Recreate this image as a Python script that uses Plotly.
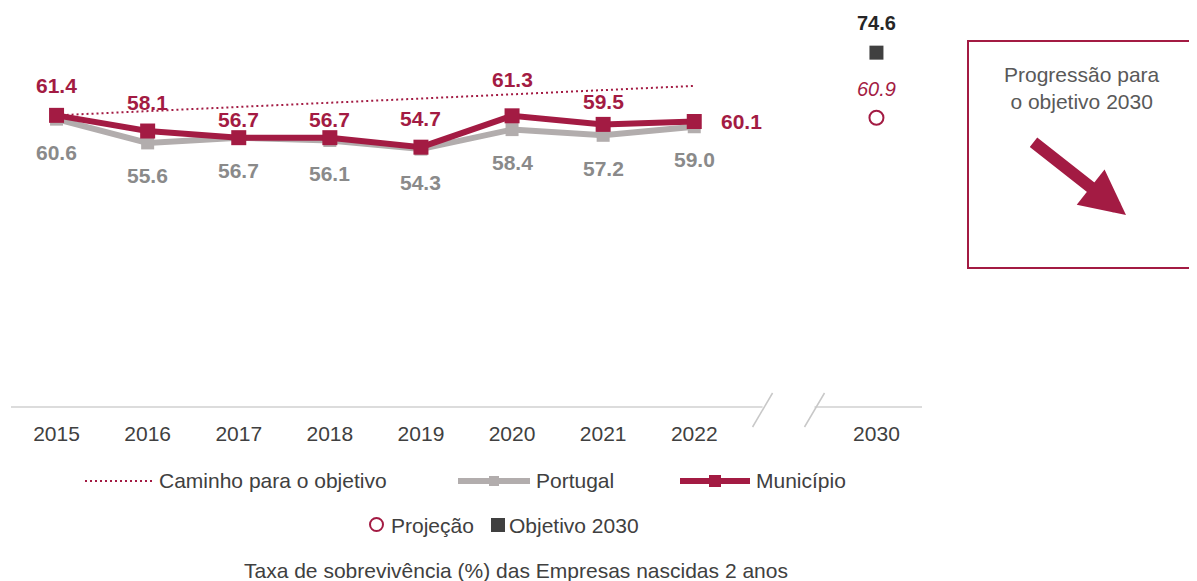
import plotly.graph_objects as go

# data
years = ["2015", "2016", "2017", "2018", "2019", "2020", "2021", "2022"]
municipio = [61.4, 58.1, 56.7, 56.7, 54.7, 61.3, 59.5, 60.1]
portugal = [60.6, 55.6, 56.7, 56.1, 54.3, 58.4, 57.2, 59.0]
caminho = [61.4, 62.3, 63.2, 64.0, 64.9, 65.8, 66.7, 67.6]
target_year = "2030"
objetivo_2030 = 74.6
projecao_2030 = 60.9

categories = years + [" ", target_year]

CRIMSON = "#A31B43"
GREY_LINE = "#B2ADAD"
GREY_TXT = "#8A8A8A"
DARK = "#404040"
FONT = "Arial, Liberation Sans, sans-serif"
FS = 21

OFF = 8  # page body margin
W, H = 1197 - OFF, 581 - OFF
ML, MR, MT, MB = 3, 275, 0, 174
PW, PH = W - ML - MR, H - MT - MB
XR = [-0.5, 9.5]


def px(x, y):
    # position in the page screenshot -> paper coordinates
    return (x - OFF - ML) / PW, (H - MB - (y - OFF)) / PH


def xdata(v):
    return (v - XR[0]) / (XR[1] - XR[0])


def cat(c):
    return categories.index(c)


fig = go.Figure()

fig.add_trace(go.Scatter(x=years, y=caminho, mode="lines",
                         line=dict(color=CRIMSON, width=2, dash="2px,3px"),
                         name="Caminho para o objetivo"))
fig.add_trace(go.Scatter(x=years, y=portugal, mode="lines+markers",
                         line=dict(color=GREY_LINE, width=6),
                         marker=dict(symbol="square", size=13, color=GREY_LINE),
                         name="Portugal"))
fig.add_trace(go.Scatter(x=years, y=municipio, mode="lines+markers",
                         line=dict(color=CRIMSON, width=6),
                         marker=dict(symbol="square", size=15, color=CRIMSON),
                         name="Município"))
fig.add_trace(go.Scatter(x=[target_year], y=[projecao_2030], mode="markers",
                         marker=dict(symbol="circle-open", size=14, color=CRIMSON,
                                     line=dict(width=2, color=CRIMSON)),
                         name="Projeção"))
fig.add_trace(go.Scatter(x=[target_year], y=[objetivo_2030], mode="markers",
                         marker=dict(symbol="square", size=14, color=DARK),
                         name="Objetivo 2030"))

# data labels
mun_shift = [30, 29, 18, 18, 29, 36, 23, 0]
for i, (yr, v) in enumerate(zip(years, municipio)):
    last = i == len(years) - 1
    fig.add_annotation(x=cat(yr), y=v, text=f"{v:.1f}", showarrow=False,
                       yshift=mun_shift[i], xshift=47 if last else 0,
                       font=dict(family=FONT, size=FS, color=CRIMSON, weight="bold"))
for yr, v in zip(years, portugal):
    fig.add_annotation(x=cat(yr), y=v, text=f"{v:.1f}", showarrow=False, yshift=-33,
                       font=dict(family=FONT, size=FS, color=GREY_TXT, weight="bold"))
fig.add_annotation(x=cat(target_year), y=objetivo_2030, text=f"{objetivo_2030:.1f}",
                   showarrow=False, yshift=30,
                   font=dict(family=FONT, size=20, color="#262626", weight="bold"))
fig.add_annotation(x=cat(target_year), y=projecao_2030, text=f"{projecao_2030:.1f}",
                   showarrow=False, yshift=29,
                   font=dict(family=FONT, size=20, color=CRIMSON, style="italic"))

# broken x axis line
axis_style = dict(color="#D0D0D0", width=1.5)
b1, b2 = xdata(7.75), xdata(8.32)
fig.add_shape(type="line", xref="paper", yref="paper", x0=0, x1=b1, y0=0, y1=0, line=axis_style)
fig.add_shape(type="line", xref="paper", yref="paper", x0=b2, x1=1, y0=0, y1=0, line=axis_style)
for b in (b1, b2):
    fig.add_shape(type="line", xref="paper", yref="paper",
                  x0=b - 10 / PW, x1=b + 10 / PW, y0=-20 / PH, y1=14 / PH,
                  line=dict(color="#C8C8C8", width=1.5))

# legend (drawn by hand to keep the original layout)
lf = dict(family=FONT, size=FS, color=DARK)
txt = dict(xref="paper", yref="paper", showarrow=False, xanchor="left", yanchor="middle")
r1 = px(0, 481)[1]
r2 = px(0, 525)[1]
fig.add_shape(type="line", xref="paper", yref="paper", x0=px(85, 0)[0], x1=px(153, 0)[0],
              y0=r1, y1=r1, line=dict(color=CRIMSON, width=2, dash="2px,3px"))
fig.add_annotation(x=px(157, 0)[0], y=r1, text="Caminho para o objetivo", font=lf, **txt)
for (a, b, c, col, ms, label) in [(458, 530, 534, GREY_LINE, 10, "Portugal"),
                                   (680, 750, 754, CRIMSON, 12, "Município")]:
    fig.add_shape(type="line", xref="paper", yref="paper", x0=px(a, 0)[0], x1=px(b, 0)[0],
                  y0=r1, y1=r1, line=dict(color=col, width=6))
    m = (a + b) / 2
    fig.add_shape(type="rect", xref="paper", yref="paper", line=dict(width=0), fillcolor=col,
                  x0=px(m - ms / 2, 0)[0], x1=px(m + ms / 2, 0)[0],
                  y0=px(0, 481 + ms / 2)[1], y1=px(0, 481 - ms / 2)[1])
    fig.add_annotation(x=px(c, 0)[0], y=r1, text=label, font=lf, **txt)
fig.add_shape(type="circle", xref="paper", yref="paper", line=dict(color=CRIMSON, width=2),
              x0=px(370, 0)[0], x1=px(383, 0)[0], y0=px(0, 531)[1], y1=px(0, 518)[1])
fig.add_annotation(x=px(389, 0)[0], y=r2, text="Projeção", font=lf, **txt)
fig.add_shape(type="rect", xref="paper", yref="paper", line=dict(width=0), fillcolor=DARK,
              x0=px(491, 0)[0], x1=px(505, 0)[0], y0=px(0, 532)[1], y1=px(0, 518)[1])
fig.add_annotation(x=px(507, 0)[0], y=r2, text="Objetivo 2030", font=lf, **txt)
fig.add_annotation(xref="paper", yref="paper", x=px(516, 0)[0], y=px(0, 570)[1],
                   xanchor="center", yanchor="middle", showarrow=False,
                   text="Taxa de sobrevivência (%) das Empresas nascidas 2 anos",
                   font=dict(family=FONT, size=FS, color=DARK))

# progress box
fig.add_shape(type="rect", xref="paper", yref="paper", line=dict(color=CRIMSON, width=2),
              x0=px(968, 0)[0], x1=px(1196, 0)[0], y0=px(0, 268)[1], y1=px(0, 41)[1])
fig.add_annotation(xref="paper", yref="paper", x=px(1082, 0)[0], y=px(0, 88)[1],
                   xanchor="center", yanchor="middle",
                   text="Progressão para<br>o objetivo 2030", showarrow=False,
                   font=dict(family=FONT, size=FS, color="#595959"))
fig.add_annotation(xref="paper", yref="paper", x=px(1126, 0)[0], y=px(0, 215)[1],
                   ax=-94, ay=-74, text="", showarrow=True, arrowhead=2,
                   arrowsize=0.75, arrowwidth=12, arrowcolor=CRIMSON, standoff=0)

fig.update_layout(
    width=W, height=H,
    margin=dict(l=ML, r=MR, t=MT, b=MB),
    plot_bgcolor="white", paper_bgcolor="white",
    showlegend=False,
    font=dict(family=FONT, color=DARK),
    xaxis=dict(type="category", categoryorder="array", categoryarray=categories,
               tickvals=years + [target_year], range=XR, showgrid=False, zeroline=False,
               showline=False, ticks="", ticklabelstandoff=12,
               tickfont=dict(family=FONT, size=FS, color=DARK)),
    yaxis=dict(range=[0, PH / 4.75], visible=False, showgrid=False, zeroline=False),
)

fig.write_html("out.html")
